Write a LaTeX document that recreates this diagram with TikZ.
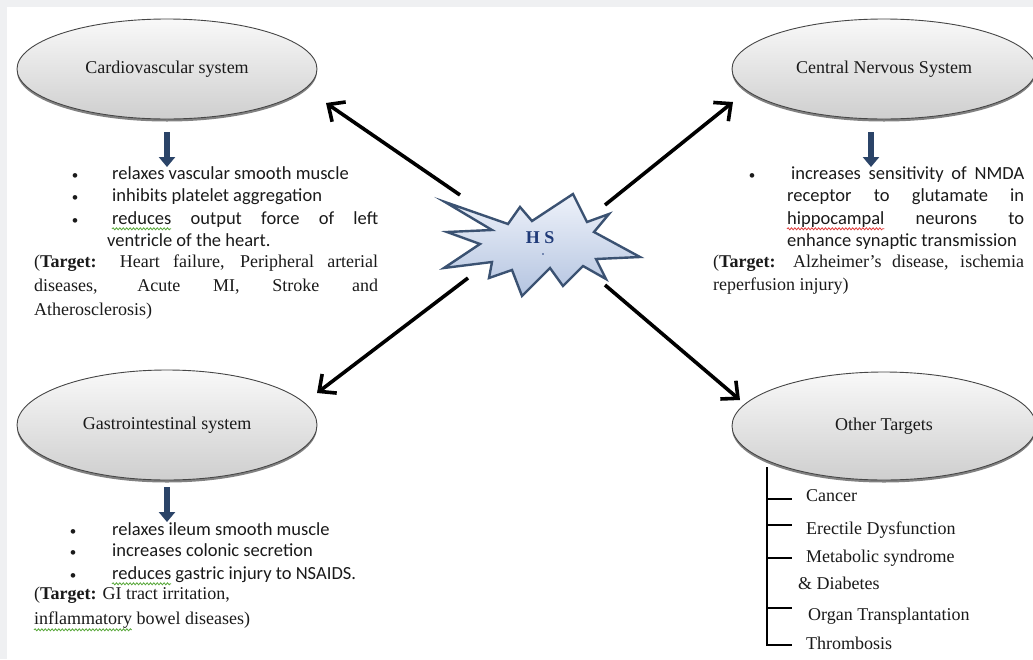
\documentclass[tikz,border=0pt]{standalone}
\usepackage{fontspec}
\setmainfont{Liberation Serif}
\setsansfont{Carlito}
\usetikzlibrary{shapes.geometric,arrows.meta,shadows,decorations.pathmorphing}
\definecolor{txt}{HTML}{1A1A1A}
\definecolor{bgray}{HTML}{EFF0F2}
\definecolor{navy}{HTML}{2B4468}
\definecolor{starline}{HTML}{3B5272}
\definecolor{startop}{HTML}{EEF2FA}
\definecolor{starbot}{HTML}{B4C4E0}
\definecolor{hscol}{HTML}{1F3A78}
\definecolor{wgreen}{HTML}{58A83A}
\definecolor{wred}{HTML}{E03C3C}
\newlength\wA \newlength\wB \newlength\wC
\begin{document}
\settowidth\wA{\sffamily\fontsize{18.5}{22}\selectfont reduces}%
\settowidth\wB{\sffamily\fontsize{18.5}{22}\selectfont hippocampal}%
\settowidth\wC{\rmfamily\fontsize{18}{22}\selectfont inflammatory}%
\begin{tikzpicture}[x=1pt,y=-1pt,
  sys/.style={ellipse, draw=gray!55!black, line width=0.9pt, top color=gray!5, bottom color=gray!38,
    minimum width=300pt, minimum height=100pt, inner sep=0pt,
    font=\rmfamily\fontsize{18}{22}\selectfont, text=txt,
    drop shadow={shadow xshift=0pt, shadow yshift=-2.5pt, fill=gray!60!black, opacity=0.7}},
  sans/.style={font=\sffamily\fontsize{18.5}{22}\selectfont, inner sep=0pt, anchor=mid west, text=txt},
  serif/.style={font=\rmfamily\fontsize{18}{22}\selectfont, inner sep=0pt, anchor=mid west, text=txt},
  bul/.style={font=\sffamily\fontsize{13}{15}\selectfont, inner sep=0pt, text=txt},
  link/.style={line width=3.6pt, black, -{Straight Barb[length=13pt,width=24pt,line width=3.6pt]}},
  down/.style={line width=6pt, navy, -{Triangle[length=10pt,width=16pt]}},
  brace/.style={line width=1.8pt, black},
  tick/.style={line width=1.1pt, black},
  wave/.style={line width=0.8pt, decorate, decoration={snake, amplitude=1pt, segment length=3.4pt}}]
\useasboundingbox (0,0) rectangle (1033,659);
\fill[bgray] (0,0) rectangle (1033,659);
\fill[white] (7,7) rectangle (1033,659);

% star
\path[draw=starline, line width=2.4pt, line join=miter, top color=startop, bottom color=starbot]
  (445,202) -- (508,224) -- (520,207) -- (532,221) -- (573,194) -- (587,222) -- (609,214)
  -- (594,232) -- (640,257) -- (596,259) -- (606,279) -- (583,266) -- (563,286) -- (550,268)
  -- (522,296) -- (512,270) -- (489,278) -- (492,262) -- (444,268) -- (480,244) -- (447,232)
  -- (492,230) -- cycle;
\node[font=\rmfamily\bfseries\fontsize{18}{20}\selectfont, text=hscol, inner sep=0pt] (hs) at (540,238) {H S};
\fill[hscol] (543,254) circle (0.9pt);

% systems
\node[sys] (cv) at (167,69) {Cardiovascular system};
\node[sys, minimum width=304pt] (cns) at (884,69) {Central Nervous System};
\node[sys, minimum height=110pt] (gi) at (167,425) {Gastrointestinal system};
\node[sys, minimum width=304pt, minimum height=108pt] (ot) at (884,426) {Other Targets};

% connectors
\coordinate (s1) at (460,195); \coordinate (t1) at (326,103);
\coordinate (s2) at (605,205); \coordinate (t2) at (733,102);
\coordinate (s3) at (468,278); \coordinate (t3) at (317,393);
\coordinate (s4) at (605,285); \coordinate (t4) at (740,400);
\draw[link] (s1) -- (t1);
\draw[link] (s2) -- (t2);
\draw[link] (s3) -- (t3);
\draw[link] (s4) -- (t4);

\coordinate (d1) at (167,132); \coordinate (e1) at (167,167);
\coordinate (d2) at (871,132); \coordinate (e2) at (871,167);
\coordinate (d3) at (167,487); \coordinate (e3) at (167,522);
\draw[down] (d1) -- (e1);
\draw[down] (d2) -- (e2);
\draw[down] (d3) -- (e3);

% cardiovascular text
\node[bul] (cvb1) at (75,177) {•};
\node[bul] (cvb2) at (75,199) {•};
\node[bul] (cvb3) at (75,222) {•};
\node[sans] (cv1) at (112,177) {relaxes vascular smooth muscle};
\node[sans] (cv2) at (112,199) {inhibits platelet aggregation};
\node[sans] (cv3) at (112,222) {\makebox[266pt][s]{reduces output force of left}};
\node[sans] (cv4) at (107,244) {ventricle of the heart.};
\node[serif] (cvt1) at (34,265) {\makebox[344pt][s]{(\textbf{Target:} Heart failure, Peripheral arterial}};
\node[serif] (cvt2) at (34,289) {\makebox[344pt][s]{diseases, Acute MI, Stroke and}};
\node[serif] (cvt3) at (34,313) {Atherosclerosis)};

% CNS text
\node[bul] (cnb1) at (752,177) {•};
\node[sans] (cn1) at (791,177) {\makebox[233pt][s]{increases sensitivity of NMDA}};
\node[sans] (cn2) at (787,199) {\makebox[237pt][s]{receptor to glutamate in}};
\node[sans] (cn3) at (787,222) {\makebox[237pt][s]{hippocampal neurons to}};
\node[sans] (cn4) at (787,244) {enhance synaptic transmission};
\node[serif] (cnt1) at (713,265) {\makebox[311pt][s]{(\textbf{Target:} Alzheimer’s disease, ischemia}};
\node[serif] (cnt2) at (713,288) {reperfusion injury)};

% GI text
\node[bul] (gib1) at (73,533) {•};
\node[bul] (gib2) at (73,554) {•};
\node[bul] (gib3) at (73,577) {•};
\node[sans] (gi1) at (112,533) {relaxes ileum smooth muscle};
\node[sans] (gi2) at (112,554) {increases colonic secretion};
\node[sans] (gi3) at (112,577) {reduces gastric injury to NSAIDS.};
\node[serif] (git1) at (34,597) {(\textbf{Target:} GI tract irritation,};
\node[serif] (git2) at (34,622) {inflammatory bowel diseases)};

% spell-check squiggles
\draw[wave, wgreen] ([yshift=-4.5pt]cv3.base west) -- ++(\wA,0);
\draw[wave, wred] ([yshift=-4.5pt]cn3.base west) -- ++(\wB,0);
\draw[wave, wgreen] ([yshift=-4.5pt]gi3.base west) -- ++(\wA,0);
\draw[wave, wgreen] ([yshift=-5.5pt]git2.base west) -- ++(\wC,0);

% other targets
\coordinate (bt) at (767,467); \coordinate (bb) at (767,645); \coordinate (be) at (792,645);
\draw[brace] (bt) -- (bb) -- (be);
\foreach \yy in {499,525,558,608} \draw[tick] (767,\yy) -- (792,\yy);
\node[serif] (o1) at (806,499) {Cancer};
\node[serif] (o2) at (806,532) {Erectile Dysfunction};
\node[serif] (o3) at (806,560) {Metabolic syndrome};
\node[serif] (o4) at (798,587) {\& Diabetes};
\node[serif] (o5) at (808,618) {Organ Transplantation};
\node[serif] (o6) at (806,647) {Thrombosis};
\end{tikzpicture}
\end{document}
